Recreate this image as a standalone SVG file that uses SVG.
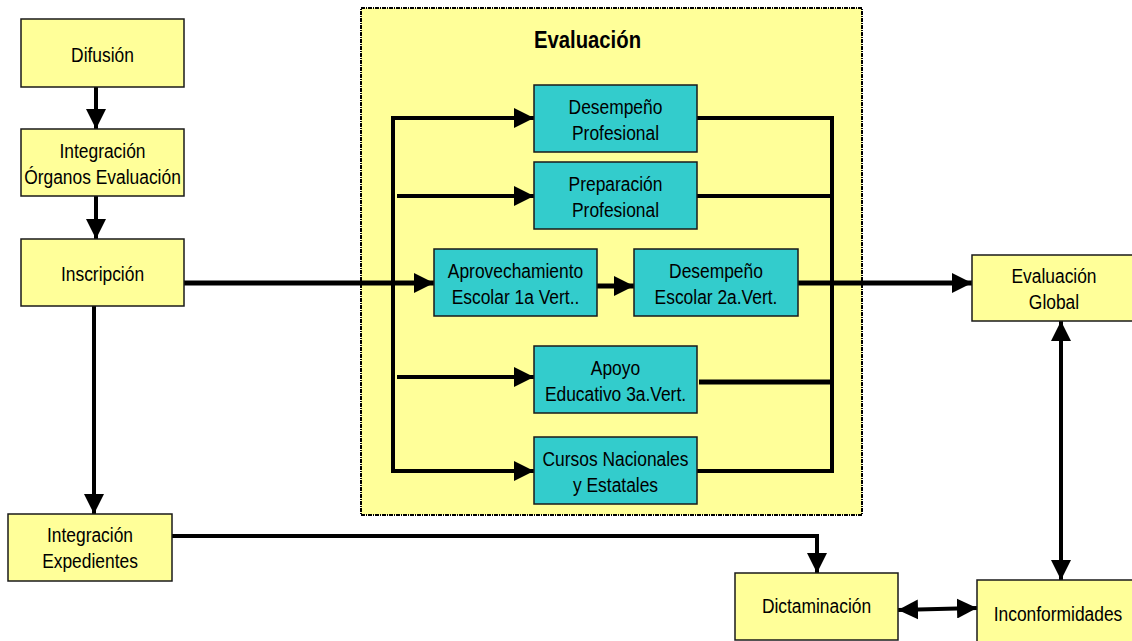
<svg xmlns="http://www.w3.org/2000/svg" width="1132" height="641" viewBox="0 0 1132 641">
<style>
.y{fill:#FFFF99;stroke:#1a1a1a;stroke-width:1.5}
.c{fill:#33CCCC;stroke:#1a1a1a;stroke-width:1.5}
.t{font-family:"Liberation Sans",Arial,sans-serif;font-size:20px;fill:#000;text-anchor:middle}
.ttl{font-family:"Liberation Sans",Arial,sans-serif;font-size:24px;font-weight:bold;fill:#000;text-anchor:middle}
.l{fill:none;stroke:#000;stroke-width:4}
.lw{fill:none;stroke:#000;stroke-width:5}
</style>
<defs>
<marker id="ah" viewBox="0 0 20 20" refX="20" refY="10" markerWidth="20" markerHeight="20" markerUnits="userSpaceOnUse" orient="auto-start-reverse">
<path d="M0,0 L20,10 L0,20 z" fill="#000"/>
</marker>
</defs>
<rect id="evaluacion-frame" x="361" y="8" width="501" height="507" fill="#FFFF99" stroke="#000" stroke-width="2" stroke-dasharray="4,1,1,1"/>
<text class="ttl" transform="translate(587.5,48) scale(0.845,1)">Evaluación</text>

<g id="connectors">
<path class="l" d="M96,87 V129" marker-end="url(#ah)"/>
<path class="l" d="M96,196 V239" marker-end="url(#ah)"/>
<path class="l" d="M94,306 V514" marker-end="url(#ah)"/>
<path class="lw" d="M184,283 H434" marker-end="url(#ah)"/>
<path class="l" d="M393,116 V473"/>
<path class="l" d="M391,118 H534" marker-end="url(#ah)"/>
<path class="l" d="M391,471 H534" marker-end="url(#ah)"/>
<path class="l" d="M397,196 H534" marker-end="url(#ah)"/>
<path class="l" d="M397,377 H534" marker-end="url(#ah)"/>
<path class="lw" d="M597,286 H634" marker-end="url(#ah)"/>
<path class="l" d="M697,118 H832 V471 H697"/>
<path class="l" d="M697,196 H832"/>
<path class="lw" d="M699,382 H832"/>
<path class="lw" d="M798,283 H972" marker-end="url(#ah)"/>
<path class="l" d="M1061,321 V580" marker-start="url(#ah)" marker-end="url(#ah)"/>
<path class="l" d="M172,536 H817 V573" marker-end="url(#ah)"/>
<path class="l" d="M898,610 L977,608" marker-start="url(#ah)" marker-end="url(#ah)"/>
</g>

<g id="difusion">
<rect class="y" x="21" y="19" width="163" height="68"/>
<text class="t" transform="translate(102.5,62) scale(0.87,1)">Difusión</text>
</g>
<g id="integracion-organos">
<rect class="y" x="21" y="129" width="163" height="67"/>
<text class="t" transform="translate(102.5,157.5) scale(0.87,1)">Integración</text>
<text class="t" transform="translate(102.5,183.5) scale(0.87,1)">Órganos Evaluación</text>
</g>
<g id="inscripcion">
<rect class="y" x="21" y="239" width="163" height="67"/>
<text class="t" transform="translate(102.5,281) scale(0.87,1)">Inscripción</text>
</g>
<g id="integracion-expedientes">
<rect class="y" x="8" y="514" width="164" height="67"/>
<text class="t" transform="translate(90,542) scale(0.87,1)">Integración</text>
<text class="t" transform="translate(90,568) scale(0.87,1)">Expedientes</text>
</g>
<g id="desempeno-profesional">
<rect class="c" x="534" y="85" width="163" height="67"/>
<text class="t" transform="translate(615.5,114) scale(0.87,1)">Desempeño</text>
<text class="t" transform="translate(615.5,140) scale(0.87,1)">Profesional</text>
</g>
<g id="preparacion-profesional">
<rect class="c" x="534" y="162" width="163" height="67"/>
<text class="t" transform="translate(615.5,191) scale(0.87,1)">Preparación</text>
<text class="t" transform="translate(615.5,217) scale(0.87,1)">Profesional</text>
</g>
<g id="aprovechamiento">
<rect class="c" x="434" y="249" width="163" height="67"/>
<text class="t" transform="translate(515.5,278) scale(0.87,1)">Aprovechamiento</text>
<text class="t" transform="translate(515.5,304) scale(0.87,1)">Escolar 1a Vert..</text>
</g>
<g id="desempeno-escolar">
<rect class="c" x="634" y="249" width="164" height="67"/>
<text class="t" transform="translate(716,278) scale(0.87,1)">Desempeño</text>
<text class="t" transform="translate(716,304) scale(0.87,1)">Escolar 2a.Vert.</text>
</g>
<g id="apoyo-educativo">
<rect class="c" x="534" y="346" width="163" height="67"/>
<text class="t" transform="translate(615.5,375) scale(0.87,1)">Apoyo</text>
<text class="t" transform="translate(615.5,401) scale(0.87,1)">Educativo 3a.Vert.</text>
</g>
<g id="cursos">
<rect class="c" x="534" y="437" width="163" height="67"/>
<text class="t" transform="translate(615.5,466) scale(0.87,1)">Cursos Nacionales</text>
<text class="t" transform="translate(615.5,492) scale(0.87,1)">y Estatales</text>
</g>
<g id="evaluacion-global">
<rect class="y" x="972" y="255" width="164" height="66"/>
<text class="t" transform="translate(1054,283) scale(0.87,1)">Evaluación</text>
<text class="t" transform="translate(1054,309) scale(0.87,1)">Global</text>
</g>
<g id="dictaminacion">
<rect class="y" x="735" y="573" width="163" height="67"/>
<text class="t" transform="translate(816.5,613) scale(0.87,1)">Dictaminación</text>
</g>
<g id="inconformidades">
<rect class="y" x="977" y="580" width="164" height="67"/>
<text class="t" transform="translate(1058,621) scale(0.87,1)">Inconformidades</text>
</g>
</svg>
